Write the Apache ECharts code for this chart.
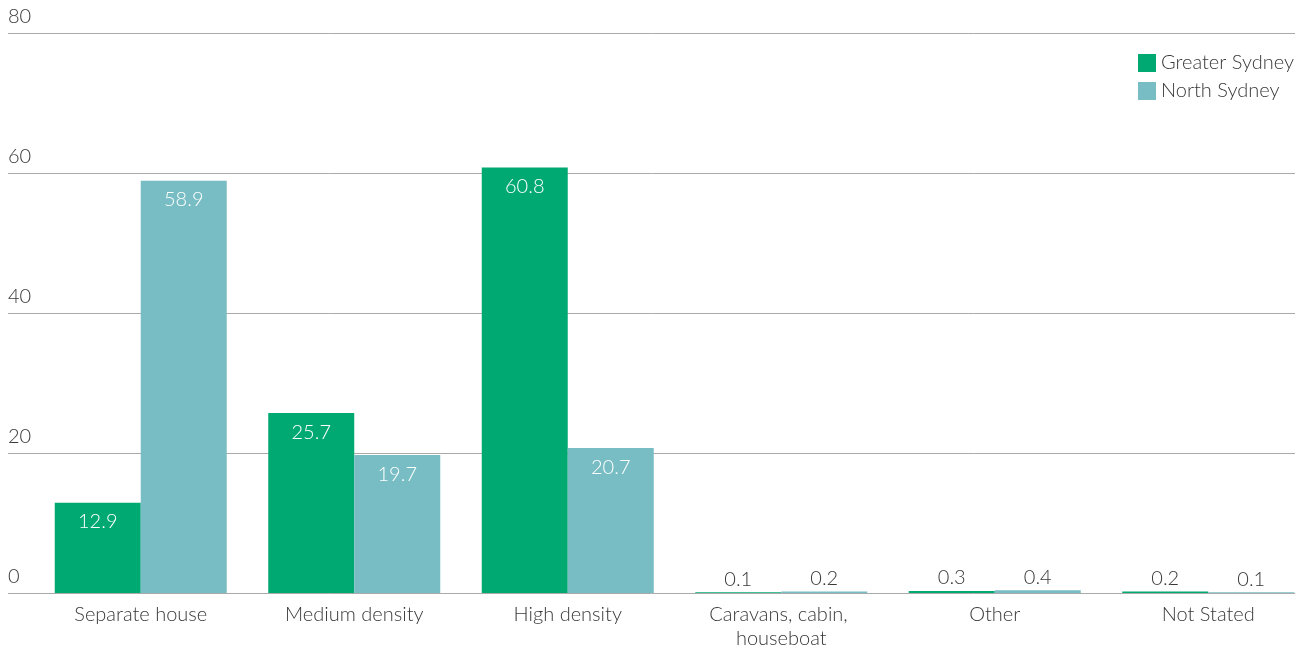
<!DOCTYPE html>
<html>
<head>
<meta charset="utf-8">
<script src="https://cdn.jsdelivr.net/npm/echarts@6/dist/echarts.min.js"></script>
<style>
  html, body { margin: 0; padding: 0; background: #fff; }
  #chart { width: 1311px; height: 648px; }
</style>
</head>
<body>
<div id="chart"></div>
<script>
// Dwelling structure, % of dwellings
const categories = ['Separate house', 'Medium density', 'High density', 'Caravans, cabin, houseboat', 'Other', 'Not Stated'];
const greaterSydney = [12.9, 25.7, 60.8, 0.1, 0.3, 0.2];
const northSydney = [58.9, 19.7, 20.7, 0.2, 0.4, 0.1];
const seriesNames = ['Greater Sydney', 'North Sydney'];
const yTicks = { min: 0, max: 80, interval: 20 };

const FONT = 'Lato, "Open Sans", sans-serif';
const FONT_SIZE = 20;
const TEXT = '#383838';
const COLORS = ['#00a972', '#78bdc3'];

// Tall bars carry their value inside in white; short ones show it above in grey.
function withLabels(values) {
  return values.map(v => ({
    value: v,
    label: v > 5
      ? { position: 'insideTop', distance: 9, color: '#fff' }
      : { position: 'top', distance: 3, color: TEXT }
  }));
}

const chart = echarts.init(document.getElementById('chart'), null, { renderer: 'canvas' });

chart.setOption({
  animation: false,
  textStyle: { fontFamily: FONT },
  legend: {
    orient: 'vertical',
    right: 12,
    top: 48,
    itemWidth: 18,
    itemHeight: 18,
    itemGap: 8,
    icon: 'rect',
    textStyle: { fontSize: FONT_SIZE, color: TEXT, fontFamily: FONT, fontWeight: 300 },
    data: seriesNames
  },
  grid: [
    // gridlines and value labels
    { left: 8, right: 16, top: 33, bottom: 55, outerBoundsMode: 'none', containLabel: false },
    // bars
    { left: 34, right: -4, top: 33, bottom: 55, outerBoundsMode: 'none', containLabel: false }
  ],
  xAxis: [
    { gridIndex: 0, type: 'category', data: categories, show: false },
    {
      gridIndex: 1,
      type: 'category',
      data: categories,
      axisLine: { show: false },
      axisTick: { show: false },
      axisLabel: {
        margin: 10,
        fontSize: FONT_SIZE,
        color: TEXT,
        fontFamily: FONT,
        fontWeight: 300,
        lineHeight: 24,
        width: 180,
        overflow: 'break',
        interval: 0
      }
    }
  ],
  yAxis: [
    {
      gridIndex: 0,
      type: 'value',
      min: yTicks.min, max: yTicks.max, interval: yTicks.interval,
      axisLine: { show: false },
      axisTick: { show: false },
      splitLine: { lineStyle: { color: '#aaa', width: 1 } },
      axisLabel: {
        inside: true,
        margin: 0,
        verticalAlign: 'bottom',
        padding: [0, 0, 6, 0],
        fontSize: FONT_SIZE,
        color: TEXT,
        fontFamily: FONT,
        fontWeight: 300
      }
    },
    {
      gridIndex: 1,
      type: 'value',
      min: yTicks.min, max: yTicks.max, interval: yTicks.interval,
      show: false,
      splitLine: { show: false }
    }
  ],
  series: [
    {
      name: seriesNames[0],
      type: 'bar',
      xAxisIndex: 1, yAxisIndex: 1,
      barWidth: 86,
      barGap: '0%',
      itemStyle: { color: COLORS[0] },
      label: { show: true, fontSize: FONT_SIZE, fontFamily: FONT, fontWeight: 300 },
      data: withLabels(greaterSydney)
    },
    {
      name: seriesNames[1],
      type: 'bar',
      xAxisIndex: 1, yAxisIndex: 1,
      barWidth: 86,
      barGap: '0%',
      itemStyle: { color: COLORS[1] },
      label: { show: true, fontSize: FONT_SIZE, fontFamily: FONT, fontWeight: 300 },
      data: withLabels(northSydney)
    }
  ]
});
</script>
</body>
</html>
